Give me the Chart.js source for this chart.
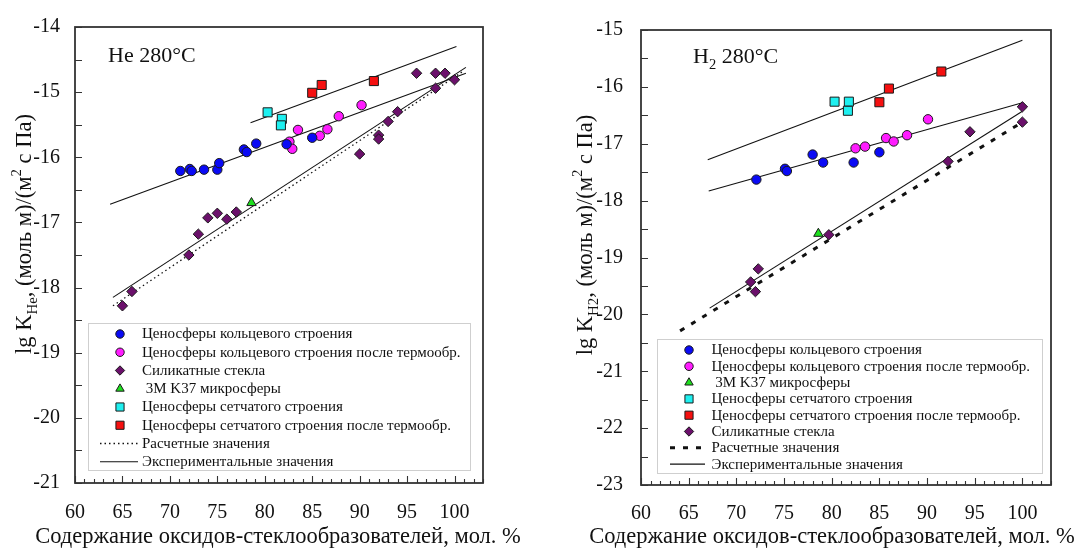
<!DOCTYPE html>
<html><head><meta charset="utf-8">
<script src="https://cdn.jsdelivr.net/npm/chart.js@4/dist/chart.umd.min.js"></script>
<style>
html,body{margin:0;padding:0;background:#fff;overflow:hidden}
#wrap{position:relative;width:1081px;height:548px;background:#fff}
canvas{position:absolute;top:0}
</style></head><body>
<div id="wrap">
<canvas id="c1" width="540" height="548" style="left:0px"></canvas>
<canvas id="c2" width="541" height="548" style="left:540px"></canvas>
</div>
<script>
// ---------- tick labels ----------
const X_TICKS = [60, 65, 70, 75, 80, 85, 90, 95, 100];
const HE_Y_TICKS = [-14, -15, -16, -17, -18, -19, -20, -21];
const H2_Y_TICKS = [-15, -16, -17, -18, -19, -20, -21, -22, -23];

// ---------- series names ----------
const LBL_RING = 'Ценосферы кольцевого строения';
const LBL_RING_HT = 'Ценосферы кольцевого строения после термообр.';
const LBL_GLASS = 'Силикатные стекла';
const LBL_K37 = ' 3M K37 микросферы';
const LBL_MESH = 'Ценосферы сетчатого строения';
const LBL_MESH_HT = 'Ценосферы сетчатого строения после термообр.';
const LBL_CALC = 'Расчетные значения';
const LBL_EXP = 'Экспериментальные значения';
const X_TITLE = 'Содержание оксидов-стеклообразователей, мол. %';

// ---------- He 280°C ----------
const heRingX = [71.1, 72.1, 72.3, 73.6, 75.0, 75.2, 77.8, 78.1, 79.1, 82.3, 85.0];
const heRingY = [-16.21, -16.18, -16.21, -16.19, -16.19, -16.09, -15.88, -15.92, -15.79, -15.80, -15.70];
const heRingHtX = [82.6, 82.9, 83.5, 85.8, 86.6, 87.8, 90.2];
const heRingHtY = [-15.76, -15.87, -15.58, -15.67, -15.57, -15.37, -15.20];
const heGlassX = [65, 66, 72, 73, 74, 75, 76, 77, 90, 92, 92, 93, 94, 96, 98, 98, 99, 100];
const heGlassY = [-18.28, -18.06, -17.50, -17.18, -16.93, -16.86, -16.95, -16.84, -15.95, -15.66, -15.72, -15.45, -15.30, -14.71, -14.71, -14.94, -14.71, -14.81];
const heK37X = [78.6];
const heK37Y = [-16.70];
const heMeshX = [80.3, 81.8, 81.7];
const heMeshY = [-15.31, -15.41, -15.51];
const heMeshHtX = [85.0, 86.0, 91.5];
const heMeshHtY = [-15.01, -14.89, -14.83];
const heCalcX = [64.0, 101.0];
const heCalcY = [-18.28, -14.67];
const heExpGlassX = [64.0, 101.2];
const heExpGlassY = [-18.15, -14.62];
const heExpRingX = [63.7, 101.2];
const heExpRingY = [-16.72, -14.71];
const heExpMeshX = [78.5, 100.2];
const heExpMeshY = [-15.47, -14.30];

// ---------- H2 280°C ----------
const h2RingX = [72.1, 75.1, 75.3, 78.0, 79.1, 82.3, 85.0];
const h2RingY = [-17.63, -17.44, -17.48, -17.19, -17.33, -17.33, -17.15];
const h2RingHtX = [82.5, 83.5, 85.7, 86.5, 87.9, 90.1];
const h2RingHtY = [-17.08, -17.05, -16.90, -16.96, -16.85, -16.57];
const h2K37X = [78.6];
const h2K37Y = [-18.58];
const h2MeshX = [80.3, 81.8, 81.7];
const h2MeshY = [-16.26, -16.26, -16.42];
const h2MeshHtX = [85.0, 86.0, 91.5];
const h2MeshHtY = [-16.27, -16.03, -15.73];
const h2GlassX = [71.5, 72.0, 72.3, 79.7, 92.2, 94.5, 100, 100];
const h2GlassY = [-19.43, -19.60, -19.20, -18.60, -17.31, -16.79, -16.35, -16.62];
const h2CalcX = [64.1, 100];
const h2CalcY = [-20.29, -16.62];
const h2ExpGlassX = [67.2, 100];
const h2ExpGlassY = [-19.89, -16.43];
const h2ExpRingX = [67.1, 100];
const h2ExpRingY = [-17.83, -16.28];
const h2ExpMeshX = [67.0, 100];
const h2ExpMeshY = [-17.28, -15.18];

// ---------- styles ----------
const SERIF = '"Liberation Serif", "Times New Roman", serif';
const ST_RING = {ps: 'circle', r: 4.7, bg: '#0a0af5'};
const ST_RING_HT = {ps: 'circle', r: 4.7, bg: '#ff1cff'};
const ST_GLASS = {ps: 'rectRot', r: 5.2, bg: '#6b106b'};
const ST_K37 = {ps: 'triangle', r: 5.4, bg: '#1ee01e'};
const ST_MESH = {ps: 'rect', r: 6.4, bg: '#1ef0f0'};
const ST_MESH_HT = {ps: 'rect', r: 6.4, bg: '#f51010'};

function pts(xs, ys) { return xs.map((x, i) => ({x: x, y: ys[i]})); }
function scat(label, xs, ys, st) {
  return {label, data: pts(xs, ys), showLine: false, order: 0,
    pointStyle: st.ps, pointRadius: st.r, pointHoverRadius: st.r,
    pointBackgroundColor: st.bg, pointBorderColor: '#1a1a1a', pointBorderWidth: 1};
}
function line(label, xs, ys, dash, w) {
  return {label, data: pts(xs, ys), showLine: true, order: 1, pointRadius: 0, pointHoverRadius: 0,
    borderColor: '#111', borderWidth: w, borderDash: dash, fill: false, tension: 0};
}

function drawRich(ctx, segs, x, y, size) {
  let cx = x;
  for (const [t, m] of segs) {
    const fs = m ? size * 0.66 : size;
    ctx.font = fs + 'px ' + SERIF;
    const dy = m === 1 ? size * 0.27 : (m === 2 ? -size * 0.42 : 0);
    ctx.fillText(t, cx, y + dy);
    cx += ctx.measureText(t).width;
  }
  return cx - x;
}
function richWidth(ctx, segs, size) {
  let w = 0;
  for (const [t, m] of segs) {
    ctx.font = (m ? size * 0.66 : size) + 'px ' + SERIF;
    w += ctx.measureText(t).width;
  }
  return w;
}

function panelPlugin(o) {
  return {
    id: 'panel',
    afterDraw(chart) {
      const ctx = chart.ctx, a = chart.chartArea, xs = chart.scales.x, ys = chart.scales.y;
      ctx.save();
      ctx.strokeStyle = '#333'; ctx.lineWidth = 1.8;
      ctx.strokeRect(a.left, a.top, a.right - a.left, a.bottom - a.top);
      ctx.lineWidth = 1.1; ctx.beginPath();
      for (let v = xs.min; v <= xs.max; v++) {
        const p = Math.round(xs.getPixelForValue(v)) + 0.5;
        const len = (v % 5 === 0) ? 7 : 4;
        ctx.moveTo(p, a.bottom); ctx.lineTo(p, a.bottom - len);
      }
      for (let v = ys.min; v <= ys.max + 1e-9; v += 0.5) {
        const p = Math.round(ys.getPixelForValue(v)) + 0.5;
        ctx.moveTo(a.left, p); ctx.lineTo(a.left + 7, p);
      }
      ctx.stroke();
      ctx.fillStyle = '#111'; ctx.textAlign = 'left'; ctx.textBaseline = 'alphabetic';
      drawRich(ctx, o.note, o.noteX, o.noteY, 22);
      ctx.save();
      ctx.translate(o.ytX, o.ytY); ctx.rotate(-Math.PI / 2);
      const w = richWidth(ctx, o.yTitle, 22.5);
      drawRich(ctx, o.yTitle, -w / 2, 0, 22.5);
      ctx.restore();
      ctx.font = '22.5px ' + SERIF; ctx.textAlign = 'center';
      ctx.fillText(X_TITLE, o.xtX, o.xtY);
      // legend
      const L = o.legend;
      ctx.strokeStyle = '#cfcfcf'; ctx.lineWidth = 1;
      ctx.strokeRect(L.x + 0.5, L.y + 0.5, L.w, L.h);
      ctx.font = '15px ' + SERIF; ctx.textAlign = 'left'; ctx.textBaseline = 'middle';
      L.items.forEach((it, i) => {
        const ry = L.row0 + i * L.step;
        const ds = chart.data.datasets[it];
        if (ds.showLine) {
          ctx.save();
          ctx.strokeStyle = '#111'; ctx.lineWidth = ds.borderWidth; ctx.setLineDash(ds.borderDash || []);
          ctx.beginPath(); ctx.moveTo(L.lx0, ry); ctx.lineTo(L.lx1, ry); ctx.stroke();
          ctx.restore();
        } else {
          ctx.save();
          ctx.fillStyle = ds.pointBackgroundColor; ctx.strokeStyle = ds.pointBorderColor; ctx.lineWidth = 1;
          Chart.helpers.drawPoint(ctx, {pointStyle: ds.pointStyle, radius: ds.pointRadius * 0.9, rotation: 0, borderWidth: 1}, L.mx, ry);
          ctx.restore();
        }
        ctx.fillStyle = '#111';
        ctx.fillText(ds.label, L.tx, ry + 0.5);
      });
      ctx.restore();
    }
  };
}

function makeChart(id, o) {
  return new Chart(document.getElementById(id).getContext('2d'), {
    type: 'scatter',
    data: {datasets: o.datasets},
    options: {
      responsive: false, animation: false, devicePixelRatio: 1,
      layout: {padding: {left: 0, top: o.top, right: o.right, bottom: 0}},
      plugins: {legend: {display: false}, tooltip: {enabled: false}},
      scales: {
        x: {type: 'linear', min: 60, max: 103,
          afterFit: s => { s.height = o.xh; },
          afterBuildTicks: s => { s.ticks = X_TICKS.map(v => ({value: v})); },
          grid: {display: false, drawTicks: false}, border: {display: false},
          ticks: {font: {family: SERIF, size: 20}, color: '#111', padding: o.xpad, maxRotation: 0, autoSkip: false, callback: v => String(v)}},
        y: {type: 'linear', min: o.ymin, max: o.ymax,
          afterFit: s => { s.width = o.yw; },
          afterBuildTicks: s => { s.ticks = o.yticks.map(v => ({value: v})); },
          grid: {display: false, drawTicks: false}, border: {display: false},
          ticks: {font: {family: SERIF, size: 20}, color: '#111', padding: o.ypad, autoSkip: false, callback: v => String(v)}}
      }
    },
    plugins: [panelPlugin(o)]
  });
}

// He panel
makeChart('c1', {
  datasets: [
    scat(LBL_RING, heRingX, heRingY, ST_RING),
    scat(LBL_RING_HT, heRingHtX, heRingHtY, ST_RING_HT),
    scat(LBL_GLASS, heGlassX, heGlassY, ST_GLASS),
    scat(LBL_K37, heK37X, heK37Y, ST_K37),
    scat(LBL_MESH, heMeshX, heMeshY, ST_MESH),
    scat(LBL_MESH_HT, heMeshHtX, heMeshHtY, ST_MESH_HT),
    line(LBL_CALC, heCalcX, heCalcY, [1.5, 3], 1.3),
    line(LBL_EXP, heExpGlassX, heExpGlassY, [], 1.1),
    line(LBL_EXP, heExpRingX, heExpRingY, [], 1.1),
    line(LBL_EXP, heExpMeshX, heExpMeshY, [], 1.1)
  ],
  top: 23, right: 57, xh: 65, yw: 75, xpad: 18, ypad: 15,
  ymin: -21, ymax: -14, yticks: HE_Y_TICKS,
  note: [['He 280°C', 0]], noteX: 108, noteY: 62,
  yTitle: [['lg K', 0], ['He', 1], [', (моль м)/(м', 0], ['2', 2], [' с Па)', 0]], ytX: 30.5, ytY: 234,
  xtX: 278, xtY: 543,
  legend: {x: 88, y: 323, w: 382, h: 147, row0: 334, step: 18.25, mx: 120, tx: 142, lx0: 100, lx1: 138,
    items: [0, 1, 2, 3, 4, 5, 6, 7]}
});

// H2 panel
makeChart('c2', {
  datasets: [
    scat(LBL_RING, h2RingX, h2RingY, ST_RING),
    scat(LBL_RING_HT, h2RingHtX, h2RingHtY, ST_RING_HT),
    scat(LBL_K37, h2K37X, h2K37Y, ST_K37),
    scat(LBL_MESH, h2MeshX, h2MeshY, ST_MESH),
    scat(LBL_MESH_HT, h2MeshHtX, h2MeshHtY, ST_MESH_HT),
    scat(LBL_GLASS, h2GlassX, h2GlassY, ST_GLASS),
    line(LBL_CALC, h2CalcX, h2CalcY, [5, 8], 3),
    line(LBL_EXP, h2ExpGlassX, h2ExpGlassY, [], 1.1),
    line(LBL_EXP, h2ExpRingX, h2ExpRingY, [], 1.1),
    line(LBL_EXP, h2ExpMeshX, h2ExpMeshY, [], 1.1)
  ],
  top: 20, right: 30, xh: 63, yw: 101, xpad: 17, ypad: 18,
  ymin: -23, ymax: -15, yticks: H2_Y_TICKS,
  note: [['H', 0], ['2', 1], [' 280°C', 0]], noteX: 153, noteY: 63,
  yTitle: [['lg K', 0], ['H2', 1], [', (моль м)/(м', 0], ['2', 2], [' с Па)', 0]], ytX: 51.5, ytY: 235,
  xtX: 292, xtY: 543,
  legend: {x: 117, y: 339, w: 385, h: 134, row0: 350, step: 16.3, mx: 149, tx: 171.5, lx0: 130, lx1: 165,
    items: [0, 1, 2, 3, 4, 5, 6, 7]}
});
</script>
</body></html>
